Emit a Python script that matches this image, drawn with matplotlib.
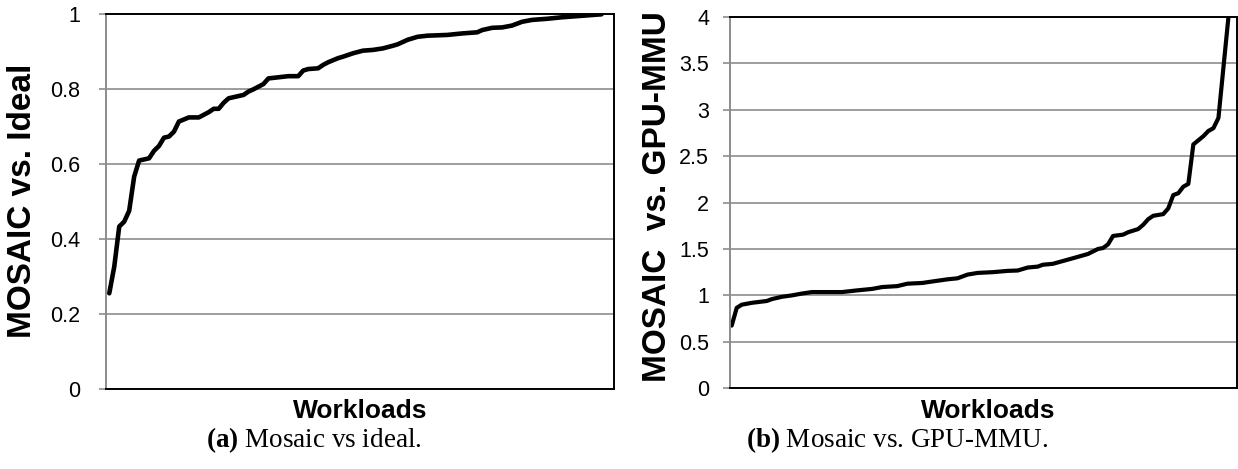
import matplotlib
matplotlib.use('Agg')
import matplotlib.pyplot as plt

# ---------------- data ----------------
# (a) Mosaic vs ideal: workload rank -> normalized performance
idx_a = [0, 1, 2, 3, 4, 5, 6, 8, 9, 10, 11, 12, 13, 14, 16, 18, 19, 20, 21, 22,
         23, 24, 26, 27, 28, 29, 31, 32, 34, 36, 38, 39, 40, 42, 43, 44, 46, 47,
         49, 51, 53, 55, 57, 58, 60, 62, 64, 68, 71, 74, 75, 77, 79, 81, 83, 85,
         88, 91, 95, 99]
val_a = [0.256, 0.327, 0.434, 0.447, 0.476, 0.567, 0.610, 0.616, 0.636, 0.649,
         0.671, 0.674, 0.687, 0.714, 0.725, 0.725, 0.732, 0.739, 0.748, 0.748,
         0.764, 0.776, 0.782, 0.785, 0.794, 0.800, 0.814, 0.829, 0.832, 0.835,
         0.835, 0.850, 0.854, 0.856, 0.865, 0.872, 0.883, 0.887, 0.896, 0.903,
         0.905, 0.909, 0.916, 0.920, 0.932, 0.940, 0.943, 0.945, 0.949, 0.952,
         0.958, 0.964, 0.965, 0.970, 0.980, 0.985, 0.988, 0.992, 0.996, 1.000]

# (b) Mosaic vs GPU-MMU: workload rank -> speedup
idx_b = [0, 1, 2, 4, 7, 8, 10, 12, 14, 16, 22, 25, 28, 30, 33, 35, 38, 40, 43, 45,
         47, 49, 52, 55, 57, 59, 61, 62, 64, 66, 68, 71, 73, 74, 75, 76, 78, 79,
         81, 82, 83, 84, 86, 87, 88, 89, 90, 91, 92, 94, 95, 96, 97, 99]
val_b = [0.675, 0.866, 0.90, 0.92, 0.94, 0.96, 0.985, 1.00, 1.02, 1.036,
         1.036, 1.054, 1.07, 1.09, 1.10, 1.126, 1.134, 1.15, 1.173, 1.184,
         1.224, 1.242, 1.25, 1.264, 1.268, 1.30, 1.31, 1.33, 1.34, 1.37,
         1.40, 1.446, 1.50, 1.51, 1.55, 1.64, 1.654, 1.68, 1.714, 1.76,
         1.82, 1.857, 1.875, 1.936, 2.08, 2.10, 2.17, 2.20, 2.625, 2.714,
         2.77, 2.80, 2.91, 4.0]

ticks_a = [0, 0.2, 0.4, 0.6, 0.8, 1]
ticklabels_a = ['0', '0.2', '0.4', '0.6', '0.8', '1']
ticks_b = [0, 0.5, 1, 1.5, 2, 2.5, 3, 3.5, 4]
ticklabels_b = ['0', '0.5', '1', '1.5', '2', '2.5', '3', '3.5', '4']

# ---------------- figure ----------------
W, H = 1238, 469
plt.rcParams['font.family'] = ['Liberation Sans', 'DejaVu Sans']
plt.rcParams['mathtext.fontset'] = 'custom'
plt.rcParams['mathtext.rm'] = 'Liberation Serif'
plt.rcParams['mathtext.bf'] = 'Liberation Serif:bold'

fig = plt.figure(figsize=(W / 100, H / 100), dpi=100)

GRID = '#8c8c8c'


def make_axes(x0, x1, y0, y1):
    # pixel box -> figure fraction
    return fig.add_axes([x0 / W, 1 - y1 / H, (x1 - x0) / W, (y1 - y0) / H])


def style(ax, ticks, labels, ylim, xlim, pad):
    ax.set_ylim(*ylim)
    ax.set_xlim(*xlim)
    ax.set_yticks(ticks)
    ax.set_yticklabels(labels, fontsize=15.5)
    ax.set_xticks([])
    ax.tick_params(axis='y', direction='out', length=4.8, width=1.2,
                   color=GRID, pad=pad)
    ax.grid(axis='y', color=GRID, linewidth=1.2)
    ax.set_axisbelow(True)
    ax.spines['left'].set_color(GRID)
    ax.spines['left'].set_linewidth(1.4)
    for s in ('top', 'right', 'bottom'):
        ax.spines[s].set_color('black')
        ax.spines[s].set_linewidth(1.4)


ax1 = make_axes(106, 614, 14.3, 389.3)
ax1.plot(idx_a, val_a, color='black', linewidth=3.3, solid_joinstyle='round',
         solid_capstyle='round')
style(ax1, ticks_a, ticklabels_a, (0, 1), (-0.66, 101.5), 13.5)

ax2 = make_axes(730, 1237, 16.7, 388.3)
ax2.plot(idx_b, val_b, color='black', linewidth=3.0, solid_joinstyle='round',
         solid_capstyle='round')
style(ax2, ticks_b, ticklabels_b, (0, 4), (-0.34, 100.7), 10.3)

# y labels
fig.text(22.5 / W, 1 - 200.8 / H, 'MOSAIC vs. Ideal', rotation=90,
         ha='center', va='center', fontsize=24, fontweight='bold')
fig.text(658 / W, 1 - 196.7 / H, 'MOSAIC  vs. GPU-MMU', rotation=90,
         ha='center', va='center', fontsize=24, fontweight='bold')

# x labels
fig.text(360 / W, 1 - 411 / H, 'Workloads', ha='center', va='center',
         fontsize=19, fontweight='bold')
fig.text(988 / W, 1 - 411 / H, 'Workloads', ha='center', va='center',
         fontsize=19, fontweight='bold')

# captions
fig.text(313.5 / W, 1 - 440 / H, r'$\mathbf{(a)}$ Mosaic vs ideal.',
         ha='center', va='center', fontsize=19.5, family='Liberation Serif')
fig.text(897 / W, 1 - 440 / H, r'$\mathbf{(b)}$ Mosaic vs. GPU-MMU.',
         ha='center', va='center', fontsize=19.5, family='Liberation Serif')

fig.savefig('out.png', dpi=100)
